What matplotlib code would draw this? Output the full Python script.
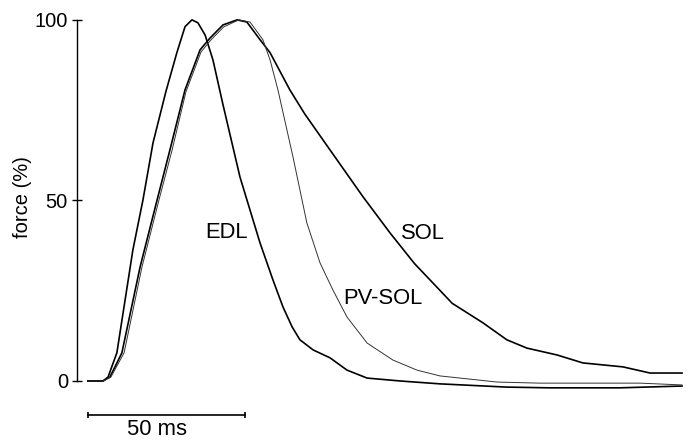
import numpy as np
import matplotlib
matplotlib.use('Agg')
import matplotlib.pyplot as plt

plt.rcParams['font.family'] = ['Liberation Sans', 'DejaVu Sans']

# twitch force traces, time in ms, force in % of peak
edl_t = [0, 4.8, 6.4, 9.2, 14.3, 17.5, 20.7, 24.8, 28.3, 30.9, 33.1, 35.0, 37.3, 39.8,
         43.0, 48.4, 54.8, 58.9, 62.1, 65.0, 67.5, 71.7, 77.1, 82.5, 88.9, 99.4, 112.1,
         133.4, 147.1, 169.4, 189.2]
edl_f = [0, 0, 1.1, 7.8, 36.3, 50.1, 65.9, 80.1, 90.9, 98.1, 100.0, 99.2, 95.8, 88.9,
         76.5, 56.5, 38.2, 28.0, 20.5, 15.0, 11.4, 8.6, 6.4, 3.0, 0.8, 0.0, -0.8,
         -1.7, -1.9, -1.9, -1.4]

sol_t = [0, 4.8, 7.0, 10.8, 16.6, 22.0, 26.1, 30.9, 35.7, 38.9, 43.0, 47.5, 50.6, 54.8,
         58.0, 64.3, 69.0, 74.8, 87.6, 96.2, 104.0, 111.1, 116.0, 125.8, 133.4, 139.8,
         149.4, 157.6, 170.4, 179.0, 189.2]
sol_f = [0, 0, 1.1, 7.8, 31.6, 50.1, 64.0, 80.6, 91.7, 95.0, 98.6, 100.0, 99.4, 94.5,
         90.9, 80.6, 74.0, 66.8, 51.0, 41.0, 32.5, 26.0, 21.5, 16.1, 11.4, 9.1,
         7.2, 5.0, 3.9, 2.2, 2.2]

pv_t = [0, 4.8, 7.3, 11.5, 17.2, 22.6, 26.8, 31.2, 36.0, 39.2, 43.3, 48.1, 51.6, 55.7,
        58.0, 60.5, 65.3, 69.7, 73.9, 78.0, 82.5, 88.9, 97.1, 104.8, 112.1, 130.3,
        143.9, 175.8, 189.2]
pv_f = [0, 0, 1.1, 7.8, 31.6, 50.1, 64.0, 80.1, 91.1, 94.5, 98.1, 100.0, 99.4, 94.5,
        88.9, 80.6, 62.0, 43.8, 32.7, 25.2, 17.7, 10.5, 5.8, 3.0, 1.4, -0.3,
        -0.6, -0.6, -1.1]

fig = plt.figure(figsize=(6.88, 4.42), dpi=100)
ax = fig.add_axes([77 / 688, 0, 611 / 688, 1])

ax.plot(edl_t, edl_f, color='black', lw=1.2)
ax.plot(sol_t, sol_f, color='black', lw=1.2)
ax.plot(pv_t, pv_f, color='#333333', lw=0.7)

ax.text(44.0, 41.0, 'EDL', fontsize=15.8, ha='center', va='center')
ax.text(94.0, 22.7, 'PV-SOL', fontsize=15.8, ha='center', va='center')
ax.text(106.7, 40.9, 'SOL', fontsize=15.8, ha='center', va='center')

# 50 ms scale bar
ax.plot([0, 50], [-9.4, -9.4], color='black', lw=1.2, marker='|', ms=5, mew=1.2,
        clip_on=False)
ax.text(22.0, -13.5, '50 ms', fontsize=15.8, ha='center', va='center')

ax.set_xlim(-3.5, 191.1)
ax.set_ylim(-16.9, 105.5)
for s in ['top', 'right', 'bottom']:
    ax.spines[s].set_visible(False)
ax.spines['left'].set_bounds(0, 100)
ax.spines['left'].set_linewidth(1.0)
ax.set_xticks([])
ax.set_yticks([0, 50, 100])
ax.tick_params(axis='y', direction='inout', length=7, width=1.0, pad=3, labelsize=14.5)
ax.set_ylabel('force (%)', fontsize=14.5)
ax.yaxis.set_label_coords(-0.074, 0.555)
ax.patch.set_visible(False)

fig.savefig('out.png', dpi=100)
